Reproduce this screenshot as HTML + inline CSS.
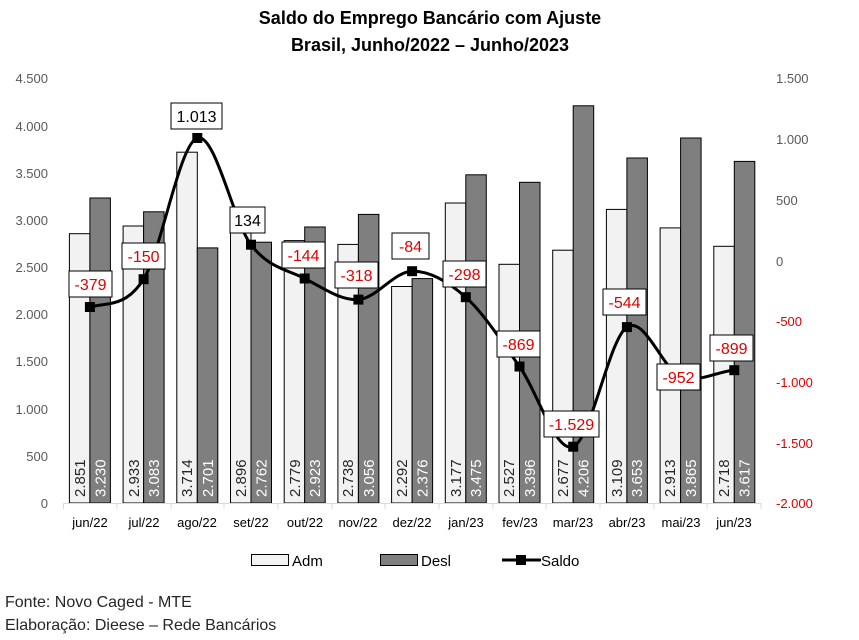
<!DOCTYPE html>
<html><head><meta charset="utf-8"><style>
body{margin:0;background:#fff}
svg{display:block;font-family:"Liberation Sans",sans-serif}
</style></head><body>
<svg width="859" height="640" viewBox="0 0 859 640" xmlns="http://www.w3.org/2000/svg">
<rect width="859" height="640" fill="#fff"/>
<text x="430" y="24" text-anchor="middle" font-size="18" font-weight="bold">Saldo do Emprego Bancário com Ajuste</text>
<text x="430" y="51" text-anchor="middle" font-size="18" font-weight="bold">Brasil,  Junho/2022 – Junho/2023</text>
<g font-size="13" fill="#595959" text-anchor="end">
<text x="48" y="508">0</text><text x="48" y="461">500</text><text x="48" y="414">1.000</text><text x="48" y="366">1.500</text><text x="48" y="319">2.000</text><text x="48" y="272">2.500</text><text x="48" y="225">3.000</text><text x="48" y="178">3.500</text><text x="48" y="131">4.000</text><text x="48" y="83">4.500</text>
</g>
<g font-size="13" fill="#595959" text-anchor="start">
<text x="776" y="83">1.500</text><text x="776" y="144">1.000</text><text x="776" y="205">500</text><text x="776" y="266">0</text>
<text x="776" y="326" fill="#e00000">-500</text><text x="776" y="387" fill="#e00000">-1.000</text><text x="776" y="448" fill="#e00000">-1.500</text><text x="776" y="508" fill="#e00000">-2.000</text>
</g>
<g stroke="#000" stroke-width="1">
<rect x="69.4" y="233.7" width="20.5" height="269.3" fill="#f2f2f2"/><rect x="89.9" y="198" width="20.5" height="305" fill="#7f7f7f"/>
<rect x="123.1" y="226" width="20.5" height="277" fill="#f2f2f2"/><rect x="143.6" y="211.8" width="20.5" height="291.2" fill="#7f7f7f"/>
<rect x="176.8" y="152.2" width="20.5" height="350.8" fill="#f2f2f2"/><rect x="197.3" y="247.9" width="20.5" height="255.1" fill="#7f7f7f"/>
<rect x="230.5" y="229.5" width="20.5" height="273.5" fill="#f2f2f2"/><rect x="251" y="242.2" width="20.5" height="260.8" fill="#7f7f7f"/>
<rect x="284.2" y="240.6" width="20.5" height="262.4" fill="#f2f2f2"/><rect x="304.7" y="227" width="20.5" height="276" fill="#7f7f7f"/>
<rect x="337.9" y="244.4" width="20.5" height="258.6" fill="#f2f2f2"/><rect x="358.4" y="214.4" width="20.5" height="288.6" fill="#7f7f7f"/>
<rect x="391.6" y="286.5" width="20.5" height="216.5" fill="#f2f2f2"/><rect x="412.1" y="278.6" width="20.5" height="224.4" fill="#7f7f7f"/>
<rect x="445.3" y="203" width="20.5" height="300" fill="#f2f2f2"/><rect x="465.8" y="174.8" width="20.5" height="328.2" fill="#7f7f7f"/>
<rect x="499" y="264.3" width="20.5" height="238.7" fill="#f2f2f2"/><rect x="519.5" y="182.3" width="20.5" height="320.7" fill="#7f7f7f"/>
<rect x="552.7" y="250.2" width="20.5" height="252.8" fill="#f2f2f2"/><rect x="573.2" y="105.8" width="20.5" height="397.2" fill="#7f7f7f"/>
<rect x="606.4" y="209.4" width="20.5" height="293.6" fill="#f2f2f2"/><rect x="626.9" y="158" width="20.5" height="345" fill="#7f7f7f"/>
<rect x="660.1" y="227.9" width="20.5" height="275.1" fill="#f2f2f2"/><rect x="680.6" y="138" width="20.5" height="365" fill="#7f7f7f"/>
<rect x="713.8" y="246.3" width="20.5" height="256.7" fill="#f2f2f2"/><rect x="734.3" y="161.4" width="20.5" height="341.6" fill="#7f7f7f"/>
</g>
<g stroke="#d9d9d9" stroke-width="1">
<line x1="63" y1="503.5" x2="761" y2="503.5"/>
<line x1="63.5" y1="503" x2="63.5" y2="509"/><line x1="117" y1="503" x2="117" y2="509"/><line x1="171" y1="503" x2="171" y2="509"/><line x1="224" y1="503" x2="224" y2="509"/><line x1="278" y1="503" x2="278" y2="509"/><line x1="332" y1="503" x2="332" y2="509"/><line x1="385" y1="503" x2="385" y2="509"/><line x1="439" y1="503" x2="439" y2="509"/><line x1="493" y1="503" x2="493" y2="509"/><line x1="546" y1="503" x2="546" y2="509"/><line x1="600" y1="503" x2="600" y2="509"/><line x1="654" y1="503" x2="654" y2="509"/><line x1="707" y1="503" x2="707" y2="509"/><line x1="761" y1="503" x2="761" y2="509"/>
</g>
<g font-size="15">
<g fill="#262626">
<text transform="translate(85,497) rotate(-90)">2.851</text><text transform="translate(139,497) rotate(-90)">2.933</text><text transform="translate(192,497) rotate(-90)">3.714</text><text transform="translate(246,497) rotate(-90)">2.896</text><text transform="translate(300,497) rotate(-90)">2.779</text><text transform="translate(353,497) rotate(-90)">2.738</text><text transform="translate(407,497) rotate(-90)">2.292</text><text transform="translate(461,497) rotate(-90)">3.177</text><text transform="translate(514,497) rotate(-90)">2.527</text><text transform="translate(568,497) rotate(-90)">2.677</text><text transform="translate(622,497) rotate(-90)">3.109</text><text transform="translate(675,497) rotate(-90)">2.913</text><text transform="translate(729,497) rotate(-90)">2.718</text>
</g>
<g fill="#fff">
<text transform="translate(105.5,497) rotate(-90)">3.230</text><text transform="translate(159,497) rotate(-90)">3.083</text><text transform="translate(213,497) rotate(-90)">2.701</text><text transform="translate(266.5,497) rotate(-90)">2.762</text><text transform="translate(320,497) rotate(-90)">2.923</text><text transform="translate(374,497) rotate(-90)">3.056</text><text transform="translate(427.5,497) rotate(-90)">2.376</text><text transform="translate(481,497) rotate(-90)">3.475</text><text transform="translate(535,497) rotate(-90)">3.396</text><text transform="translate(588.5,497) rotate(-90)">4.206</text><text transform="translate(642,497) rotate(-90)">3.653</text><text transform="translate(696,497) rotate(-90)">3.865</text><text transform="translate(749.5,497) rotate(-90)">3.617</text>
</g>
</g>
<g font-size="13" fill="#000" text-anchor="middle">
<text x="90" y="527">jun/22</text><text x="144" y="527">jul/22</text><text x="197" y="527">ago/22</text><text x="251" y="527">set/22</text><text x="305" y="527">out/22</text><text x="358" y="527">nov/22</text><text x="412" y="527">dez/22</text><text x="466" y="527">jan/23</text><text x="520" y="527">fev/23</text><text x="573" y="527">mar/23</text><text x="627" y="527">abr/23</text><text x="681" y="527">mai/23</text><text x="734" y="527">jun/23</text>
</g>
<path fill="none" stroke="#000" stroke-width="3" d="M89.9,307 C107.8,302.4 125.7,307.4 143.6,279.2 C161.5,251 179.4,143.75 197.3,138 C215.2,132.25 233.1,221.3 251,244.7 C268.9,268.1 286.8,269.35 304.7,278.5 C322.6,287.65 340.5,300.8 358.4,299.6 C376.3,298.4 394.2,271.6 412.1,271.2 C430,270.8 447.9,281.3 465.8,297.2 C483.7,313.1 501.6,341.6 519.5,366.5 C537.4,391.4 555.3,453.3 573.2,446.7 C591.1,440.1 609,338.8 626.9,327.1 C644.8,315.4 662.7,369.4 680.6,376.6 C698.5,383.8 716.4,371.3 734.3,370.2"/>
<g fill="#000">
<rect x="84.9" y="302" width="10" height="10"/><rect x="138.6" y="274.2" width="10" height="10"/><rect x="192.3" y="133" width="10" height="10"/><rect x="246" y="239.7" width="10" height="10"/><rect x="299.7" y="273.5" width="10" height="10"/><rect x="353.4" y="294.6" width="10" height="10"/><rect x="407.1" y="266.2" width="10" height="10"/><rect x="460.8" y="292.2" width="10" height="10"/><rect x="514.5" y="361.5" width="10" height="10"/><rect x="568.2" y="441.7" width="10" height="10"/><rect x="621.9" y="322.1" width="10" height="10"/><rect x="675.6" y="371.6" width="10" height="10"/><rect x="729.3" y="365.2" width="10" height="10"/>
</g>
<g stroke="#000" stroke-width="1" fill="#fff">
<rect x="69" y="271" width="43" height="26"/><rect x="122" y="243" width="43" height="26"/><rect x="171" y="103" width="51" height="26"/><rect x="230" y="207" width="35" height="26"/><rect x="282" y="242" width="43" height="26"/><rect x="335" y="262" width="43" height="26"/><rect x="392" y="233" width="37" height="26"/><rect x="443" y="261" width="43" height="26"/><rect x="497" y="331" width="43" height="26"/><rect x="544" y="411" width="55" height="26"/><rect x="603" y="289" width="43" height="26"/><rect x="657" y="364" width="43" height="26"/><rect x="710" y="335" width="43" height="26"/>
</g>
<g font-size="16" text-anchor="middle" fill="#e00000">
<text x="90.5" y="290">-379</text><text x="143.5" y="262">-150</text><text x="196.5" y="122" fill="#000">1.013</text><text x="247.5" y="226" fill="#000">134</text><text x="303.5" y="261">-144</text><text x="356.5" y="281">-318</text><text x="410.5" y="252">-84</text><text x="464.5" y="280">-298</text><text x="518.5" y="350">-869</text><text x="571.5" y="430">-1.529</text><text x="624.5" y="308">-544</text><text x="678.5" y="383">-952</text><text x="731.5" y="354">-899</text>
</g>
<rect x="251.5" y="554.5" width="37" height="11" fill="#f2f2f2" stroke="#000"/>
<text x="292" y="566" font-size="15">Adm</text>
<rect x="380.5" y="554.5" width="37" height="11" fill="#7f7f7f" stroke="#000"/>
<text x="421" y="566" font-size="15">Desl</text>
<line x1="502" y1="560" x2="541" y2="560" stroke="#000" stroke-width="3"/>
<rect x="516" y="555" width="10" height="10" fill="#000"/>
<text x="541" y="566" font-size="15">Saldo</text>
<text x="5" y="607" font-size="16" fill="#262626">Fonte: Novo Caged - MTE</text>
<text x="5" y="630" font-size="16" fill="#262626">Elaboração: Dieese – Rede Bancários</text>
</svg>
</body></html>
